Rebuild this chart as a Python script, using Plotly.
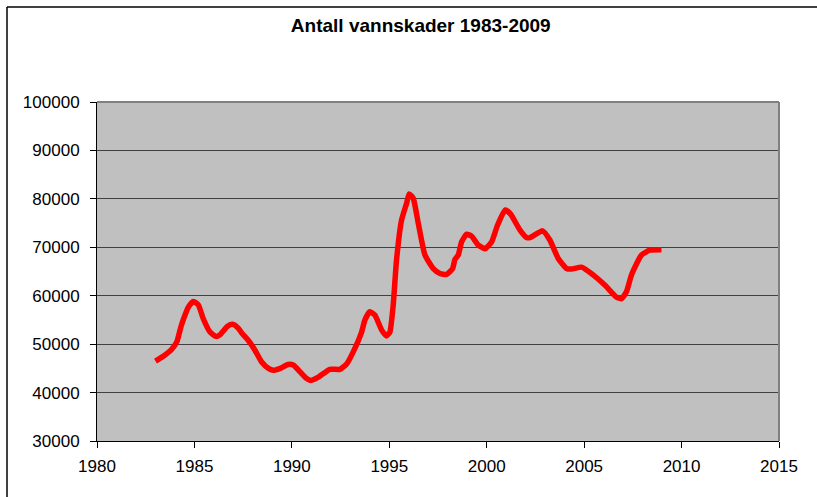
import plotly.graph_objects as go

years = [1983.0, 1983.4, 1983.83, 1984.1, 1984.3, 1984.45, 1984.7, 1984.95, 1985.2, 1985.45,
         1985.8, 1986.1, 1986.3, 1986.7, 1986.96, 1987.25, 1987.45, 1987.76, 1988.1, 1988.45,
         1988.8, 1989.05, 1989.4, 1989.8, 1990.07, 1990.42, 1990.76, 1990.96, 1991.36, 1991.95,
         1992.47, 1992.81, 1993.15, 1993.58, 1993.75, 1994.0, 1994.26, 1994.61, 1994.86, 1995.03,
         1995.2, 1995.37, 1995.63, 1995.89, 1996.02, 1996.23, 1996.49, 1996.83, 1997.26, 1997.6,
         1997.94, 1998.25, 1998.37, 1998.54, 1998.71, 1998.97, 1999.22, 1999.56, 1999.91, 2000.25,
         2000.55, 2000.95, 2001.22, 2001.7, 2002.05, 2002.22, 2002.87, 2003.24, 2003.67, 2004.1,
         2004.35, 2004.87, 2005.46, 2006.06, 2006.66, 2006.92, 2007.17, 2007.43, 2007.94, 2008.37,
         2008.97]
values = [46500, 47500, 48900, 50500, 53500, 55300, 57700, 58800, 58100, 55300,
          52500, 51600, 51900, 53700, 54100, 53300, 52200, 50800, 48800, 46300,
          45000, 44600, 45000, 45800, 45700, 44300, 42900, 42500, 43200, 44800,
          44800, 45900, 48400, 52500, 55000, 56700, 56000, 52900, 51700, 52500,
          58000, 67300, 75600, 79100, 81000, 80100, 74900, 68400, 65600, 64600,
          64400, 65600, 67500, 68400, 71100, 72700, 72300, 70500, 69700, 71100,
          74500, 77700, 76900, 73600, 72000, 72000, 73400, 71500, 67700, 65600,
          65500, 65900, 64300, 62200, 59700, 59400, 60800, 64300, 68400, 69400,
          69500]

title_text = "Antall vannskader 1983-2009"
x_ticks = [1980, 1985, 1990, 1995, 2000, 2005, 2010, 2015]
y_ticks = [30000, 40000, 50000, 60000, 70000, 80000, 90000, 100000]

FONT = "Liberation Sans, Arial, sans-serif"

fig = go.Figure()
fig.add_trace(go.Scatter(
    x=years, y=values, mode="lines",
    line=dict(color="#FF0000", width=5.5, shape="spline", smoothing=0.5),
    showlegend=False, hoverinfo="x+y",
))

fig.update_layout(
    width=817, height=497,
    margin=dict(l=97, r=38, t=102, b=56),
    paper_bgcolor="white",
    plot_bgcolor="#C0C0C0",
    font=dict(family=FONT, size=17, color="black"),
    title=dict(text="<b>" + title_text + "</b>", x=0.515, xanchor="center",
               y=1 - 25 / 497, yanchor="middle",
               font=dict(family=FONT, size=19, color="black")),
    xaxis=dict(range=[1980, 2015], tickvals=x_ticks, ticktext=[str(v) for v in x_ticks],
               showgrid=False, zeroline=False, showline=True, linecolor="black", linewidth=1,
               ticks="outside", ticklen=6, tickcolor="black", mirror=False,
               ticklabelstandoff=4,
               tickfont=dict(family=FONT, size=17, color="black")),
    yaxis=dict(range=[30000, 100000], tickvals=y_ticks, ticktext=[str(v) for v in y_ticks],
               showgrid=True, gridcolor="#404040", gridwidth=1, zeroline=False,
               showline=True, linecolor="black", linewidth=1,
               ticks="outside", ticklen=6, tickcolor="black",
               ticklabelstandoff=7,
               tickfont=dict(family=FONT, size=17, color="black")),
)

# plot-area border on top and right (gray)
fig.add_shape(type="line", xref="paper", yref="paper", x0=0, x1=1, y0=1, y1=1,
              line=dict(color="#808080", width=2), layer="above")
fig.add_shape(type="line", xref="paper", yref="paper", x0=1, x1=1, y0=0, y1=1,
              line=dict(color="#808080", width=2), layer="above")

# outer chart frame (left and top edges visible)
px_w = 817 - 97 - 38
px_h = 497 - 102 - 56
fx = (7 - 97) / px_w
fy = (497 - 56 - 7) / px_h
fig.add_shape(type="line", xref="paper", yref="paper", x0=fx, x1=fx, y0=fy, y1=-0.3,
              line=dict(color="black", width=1.5))
fig.add_shape(type="line", xref="paper", yref="paper", x0=fx, x1=1.2, y0=fy, y1=fy,
              line=dict(color="black", width=1.5))

fig.write_html("out.html",
               config={"displayModeBar": False},
               post_script="document.body.style.margin='0';document.body.style.overflow='hidden';")
